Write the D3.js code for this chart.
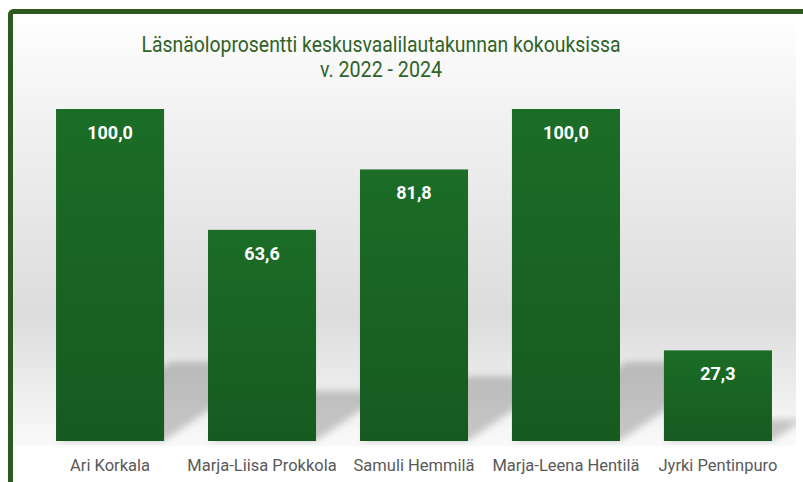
<!DOCTYPE html>
<html>
<head>
<meta charset="utf-8">
<script src="https://cdn.jsdelivr.net/npm/d3@7"></script>
<style>
  html, body { margin: 0; padding: 0; background: #ffffff; }
  svg { display: block; }
</style>
</head>
<body>
<script>
const categories = ["Ari Korkala", "Marja-Liisa Prokkola", "Samuli Hemmilä", "Marja-Leena Hentilä", "Jyrki Pentinpuro"];
const values = [100.0, 63.6, 81.8, 100.0, 27.3];
const titleLines = ["Läsnäoloprosentti keskusvaalilautakunnan kokouksissa", "v. 2022 - 2024"];

const W = 803, H = 482;
const svg = d3.select("body").append("svg").attr("width", W).attr("height", H);
const defs = svg.append("defs");

// background gradient
const bg = defs.append("linearGradient").attr("id", "bgGrad").attr("x1", 0).attr("y1", 0).attr("x2", 0).attr("y2", 1);
bg.append("stop").attr("offset", "0%").attr("stop-color", "#ffffff");
bg.append("stop").attr("offset", "25%").attr("stop-color", "#f1f1f1");
bg.append("stop").attr("offset", "70%").attr("stop-color", "#dcdcdc");
bg.append("stop").attr("offset", "100%").attr("stop-color", "#fafafa");

const barGrad = defs.append("linearGradient").attr("id", "barGrad").attr("x1", 0).attr("y1", 0).attr("x2", 0).attr("y2", 1);
barGrad.append("stop").attr("offset", "0%").attr("stop-color", "#1b6d27");
barGrad.append("stop").attr("offset", "100%").attr("stop-color", "#175a20");

const blur = defs.append("filter").attr("id", "shadowBlur").attr("x", "-20%").attr("y", "-20%").attr("width", "140%").attr("height", "140%");
blur.append("feGaussianBlur").attr("stdDeviation", 3.5);

defs.append("clipPath").attr("id", "plotClip").append("rect")
  .attr("x", 13).attr("y", 14).attr("width", 783).attr("height", 432);

// plot area background
svg.append("rect").attr("x", 13).attr("y", 14).attr("width", 783).attr("height", 432)
  .attr("fill", "url(#bgGrad)");

const x = d3.scaleBand().domain(categories).range([34, 794]).paddingInner(0.289).paddingOuter(0.145);
const y = d3.scaleLinear().domain([0, 100]).range([441, 109]);

// perspective shadows
const shadowScale = 0.238, skew = 1.45;
svg.append("g").attr("clip-path", "url(#plotClip)")
  .selectAll("path").data(categories).join("path")
  .attr("d", (c, i) => {
    const x0 = x(c), x1 = x(c) + x.bandwidth(), y0 = y(0);
    const h = (y(0) - y(values[i])) * shadowScale;
    const dx = h * skew;
    return `M${x0},${y0}L${x1},${y0}L${x1 + dx},${y0 - h}L${x0 + dx},${y0 - h}Z`;
  })
  .attr("fill", "#000").attr("fill-opacity", 0.2)
  .attr("filter", "url(#shadowBlur)");

// bars
svg.append("g").selectAll("rect").data(categories).join("rect")
  .attr("x", c => x(c))
  .attr("y", (c, i) => y(values[i]))
  .attr("width", x.bandwidth())
  .attr("height", (c, i) => y(0) - y(values[i]))
  .attr("fill", "url(#barGrad)");

// value labels
const fmt = v => d3.format(".1f")(v).replace(".", ",");
svg.append("g").selectAll("text").data(categories).join("text")
  .attr("x", c => x(c) + x.bandwidth() / 2)
  .attr("y", (c, i) => y(values[i]) + 30)
  .attr("text-anchor", "middle")
  .attr("font-family", "Roboto, 'Open Sans', sans-serif")
  .attr("font-weight", "bold")
  .attr("font-size", 18)
  .attr("fill", "#ffffff")
  .text((c, i) => fmt(values[i]));

// category axis
const axis = svg.append("g").attr("transform", `translate(0,${y(0)})`)
  .call(d3.axisBottom(x).tickSize(0).tickPadding(0));
axis.select(".domain").remove();
axis.selectAll("text")
  .attr("y", 30).attr("dy", 0)
  .attr("font-family", "Roboto, 'Open Sans', sans-serif")
  .attr("font-size", 16.5)
  .attr("fill", "#595959");

// title
const titleG = svg.append("g");
titleG.append("text").attr("x", 381).attr("y", 52)
  .attr("text-anchor", "middle")
  .attr("font-family", "Roboto, 'Open Sans', sans-serif")
  .attr("font-size", 22.5).attr("fill", "#2f6227")
  .attr("textLength", 479).attr("lengthAdjust", "spacingAndGlyphs")
  .text(titleLines[0]);
titleG.append("text").attr("x", 381).attr("y", 77)
  .attr("text-anchor", "middle")
  .attr("font-family", "Roboto, 'Open Sans', sans-serif")
  .attr("font-size", 22.5).attr("fill", "#2f6227")
  .attr("textLength", 122).attr("lengthAdjust", "spacingAndGlyphs")
  .text(titleLines[1]);

// frame border
svg.append("rect").attr("x", 10.5).attr("y", 11.5).attr("width", 900).attr("height", 600)
  .attr("rx", 3).attr("fill", "none").attr("stroke", "#2d5a1e").attr("stroke-width", 5);
</script>
</body>
</html>
